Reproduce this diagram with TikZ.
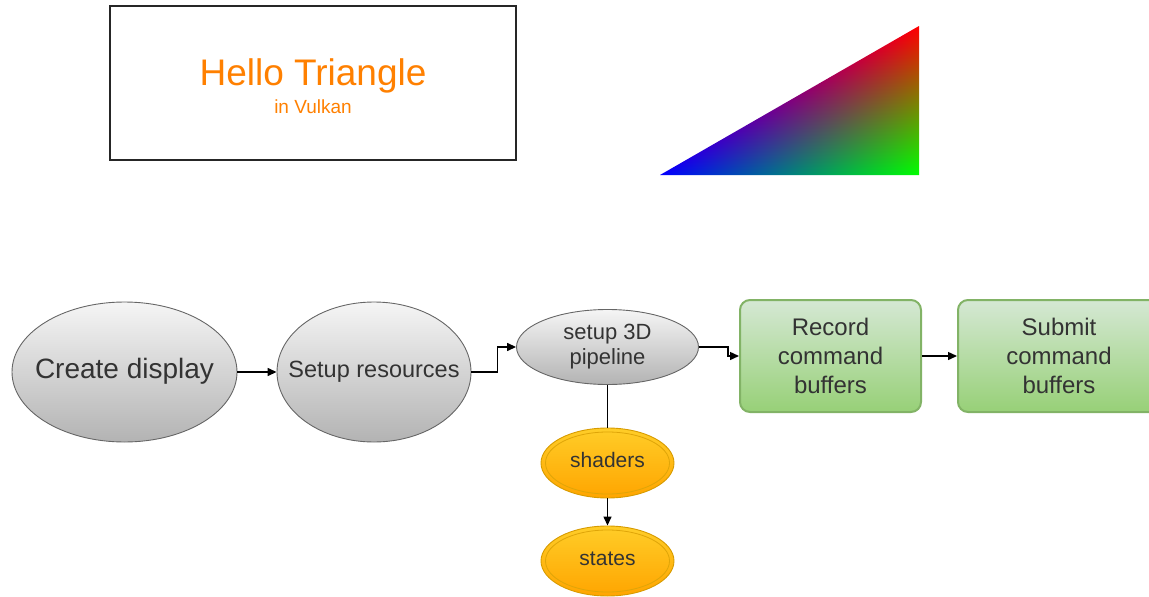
\documentclass[tikz,border=0pt]{standalone}
\usepackage{fontspec}
\setmainfont{Liberation Sans}
\usetikzlibrary{shapes.geometric,arrows.meta}
\definecolor{orangeT}{HTML}{FF8000}
\definecolor{grayTop}{HTML}{F5F5F5}
\definecolor{grayBot}{HTML}{B3B3B3}
\definecolor{grayLine}{HTML}{666666}
\definecolor{greenTop}{HTML}{D5E8D4}
\definecolor{greenBot}{HTML}{97D077}
\definecolor{greenLine}{HTML}{82B366}
\definecolor{oraTop}{HTML}{FFCD28}
\definecolor{oraBot}{HTML}{FFA500}
\definecolor{oraLine}{HTML}{D79B00}
\definecolor{txt}{HTML}{333333}
\pgfdeclarefunctionalshading{rgbtri}{\pgfpoint{0bp}{0bp}}{\pgfpoint{100bp}{100bp}}{}{
  25 sub 50 div exch 25 sub 50 div exch
  1 index 1 index sub
  3 -1 roll 1 exch sub
}
\newcommand{\zbox}[1]{\raisebox{-0.12em}{\makebox[0pt][c]{\begin{tabular}{@{}c@{}}#1\end{tabular}}}}
\tikzset{
  titlebox/.style={draw=black!85, line width=1.3pt, fill=white},
  grayell/.style={ellipse, draw=grayLine, line width=0.9pt, top color=grayTop, bottom color=grayBot, inner sep=0pt, text=txt},
  greenbox/.style={rectangle, rounded corners=10pt, draw=greenLine, line width=2pt, top color=greenTop, bottom color=greenBot, inner sep=0pt, text=txt, align=center, font=\fontsize{24}{29}\selectfont},
  orangeell/.style={ellipse, draw=oraLine, line width=0.9pt, top color=oraTop, bottom color=oraBot, inner sep=0pt, text=txt, font=\fontsize{21}{24}\selectfont},
  orangeline/.style={draw=oraLine!80!oraTop, line width=0.8pt},
  conn/.style={draw=black, line width=1.4pt},
  arr/.style={-{Triangle[length=9pt,width=8pt]}}
}
\begin{document}
\begin{tikzpicture}[x=1pt,y=-1pt]
\useasboundingbox (0,0) rectangle (1149,597);
% title
\node[titlebox, minimum width=406pt, minimum height=154pt] (title) at (313,83) {};
\node[anchor=base, text=orangeT, font=\fontsize{37}{40}\selectfont, inner sep=0pt] (hello) at (313,85) {Hello Triangle};
\node[anchor=base, text=orangeT, font=\fontsize{19}{22}\selectfont, inner sep=0pt] (vulkan) at (313,113) {in Vulkan};
% triangle
\coordinate (tb) at (660,175);
\coordinate (tr) at (919,26);
\coordinate (tg) at (919,175);
\shade[shading=rgbtri] (tb) -- (tr) -- (tg) -- cycle;
% flow
\node[grayell, minimum width=225pt, minimum height=140pt, font=\fontsize{28}{32}\selectfont] (create) at (124.5,372) {\zbox{Create display}};
\node[grayell, minimum width=194pt, minimum height=140pt, font=\fontsize{23.5}{26}\selectfont] (resources) at (374,372) {\zbox{Setup resources}};
\node[grayell, minimum width=182pt, minimum height=75pt, font=\fontsize{22}{25}\selectfont] (pipeline) at (607.5,347) {\zbox{setup 3D\\pipeline}};
\node[greenbox, minimum width=181pt, minimum height=112pt] (record) at (830.5,356) {Record\\command\\buffers};
\node[greenbox, minimum width=202pt, minimum height=112pt] (submit) at (1059,356) {Submit\\command\\buffers};
\node[orangeell, minimum width=133pt, minimum height=70pt] (shaders) at (607.5,463) {\zbox{shaders}};
\draw[orangeline] (shaders.center) ellipse [x radius=62, y radius=31];
\node[orangeell, minimum width=133pt, minimum height=70pt] (states) at (607.5,561) {\zbox{states}};
\draw[orangeline] (states.center) ellipse [x radius=62, y radius=31];
% connectors
\draw[conn,arr] (create) -- (resources);
\draw[conn,arr] (resources.east) -- ++(26,0) |- (pipeline.west);
\draw[conn,arr] (pipeline.east) -- ++(29,0) |- (record.west);
\draw[conn,arr] (record) -- (submit);
\draw[conn] (pipeline.south) -- (shaders.north);
\draw[conn,arr] (shaders.south) -- (states.north);
\end{tikzpicture}
\end{document}
